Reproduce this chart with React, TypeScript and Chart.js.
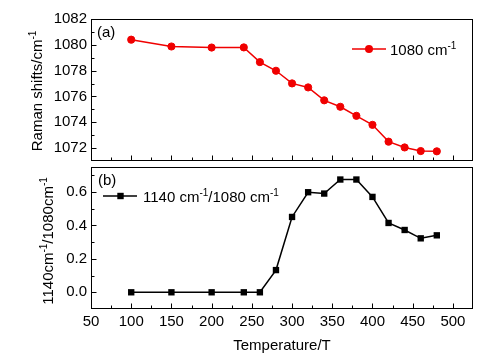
import React, { useEffect, useRef } from 'react';
import { Chart, registerables } from 'chart.js';

Chart.register(...registerables);

// ---- data ----
const temperatures = [100, 150, 200, 240, 260, 280, 300, 320, 340, 360, 380, 400, 420, 440, 460, 480];
const ramanShift1080 = [1080.4, 1079.87, 1079.79, 1079.8, 1078.66, 1077.99, 1077.01, 1076.7, 1075.7, 1075.2, 1074.5, 1073.8, 1072.5, 1072.05, 1071.77, 1071.75];
const ratio1140to1080 = [0, 0, 0, 0, 0, 0.133, 0.451, 0.599, 0.591, 0.675, 0.675, 0.571, 0.415, 0.373, 0.323, 0.341];

const xMajorTicks = [50, 100, 150, 200, 250, 300, 350, 400, 450, 500];
const xMinorTicks = [75, 125, 175, 225, 275, 325, 375, 425, 475];
const topYMajorTicks = [1072, 1074, 1076, 1078, 1080, 1082];
const topYMinorTicks = [1073, 1075, 1077, 1079, 1081];
const bottomYMajorTicks = [0, 0.2, 0.4, 0.6];
const bottomYMinorTicks = [0.1, 0.3, 0.5, 0.7];

const FONT = '"Liberation Sans", Arial, Helvetica, sans-serif';
const W = 488;
const H = 358;
const RED = '#f00000';
const BLACK = '#000000';

type Part = { t: string; sup?: boolean };

function richWidth(ctx: CanvasRenderingContext2D, parts: Part[], size: number) {
  let w = 0;
  for (const p of parts) {
    ctx.font = `${p.sup ? Math.round(size * 0.68) : size}px ${FONT}`;
    w += ctx.measureText(p.t).width;
  }
  return w;
}

function drawRich(ctx: CanvasRenderingContext2D, parts: Part[], x: number, y: number, size: number) {
  let cx = x;
  ctx.textBaseline = 'alphabetic';
  ctx.textAlign = 'left';
  for (const p of parts) {
    ctx.font = `${p.sup ? Math.round(size * 0.68) : size}px ${FONT}`;
    ctx.fillText(p.t, cx, p.sup ? y - size * 0.4 : y);
    cx += ctx.measureText(p.t).width;
  }
}

function drawRotatedTitle(ctx: CanvasRenderingContext2D, parts: Part[], baseX: number, centerY: number, size: number) {
  ctx.save();
  ctx.translate(baseX, centerY);
  ctx.rotate(-Math.PI / 2);
  const w = richWidth(ctx, parts, size);
  drawRich(ctx, parts, -w / 2, 0, size);
  ctx.restore();
}

function makeFramePlugin(yMajor: number[], yMinor: number[]) {
  return {
    id: 'frameTicks',
    beforeDatasetsDraw(chart: any) {
      const { ctx, chartArea: a, scales } = chart;
      ctx.save();
      ctx.strokeStyle = BLACK;
      ctx.lineWidth = 1;
      const l = Math.round(a.left) + 0.5;
      const r = Math.round(a.right) - 0.5;
      const t = Math.round(a.top) + 0.5;
      const b = Math.round(a.bottom) - 0.5;
      ctx.strokeRect(l, t, r - l, b - t);
      ctx.beginPath();
      for (const v of xMajorTicks) {
        const px = Math.round(scales.x.getPixelForValue(v)) + 0.5;
        ctx.moveTo(px, b);
        ctx.lineTo(px, b - 5);
      }
      for (const v of xMinorTicks) {
        const px = Math.round(scales.x.getPixelForValue(v)) + 0.5;
        ctx.moveTo(px, b);
        ctx.lineTo(px, b - 3);
      }
      for (const v of yMajor) {
        const py = Math.round(scales.y.getPixelForValue(v)) + 0.5;
        ctx.moveTo(l, py);
        ctx.lineTo(l + 5, py);
      }
      for (const v of yMinor) {
        const py = Math.round(scales.y.getPixelForValue(v)) + 0.5;
        ctx.moveTo(l, py);
        ctx.lineTo(l + 3, py);
      }
      ctx.stroke();
      ctx.restore();
    },
  };
}

const topTextPlugin = {
  id: 'topText',
  afterDraw(chart: any) {
    const { ctx } = chart;
    ctx.save();
    ctx.fillStyle = BLACK;
    // panel label
    ctx.font = `15px ${FONT}`;
    ctx.textBaseline = 'middle';
    ctx.textAlign = 'left';
    ctx.fillText('(a)', 97, 33);
    // legend
    ctx.strokeStyle = RED;
    ctx.lineWidth = 1.5;
    ctx.beginPath();
    ctx.moveTo(352, 49);
    ctx.lineTo(386, 49);
    ctx.stroke();
    ctx.fillStyle = RED;
    ctx.beginPath();
    ctx.arc(369, 49, 4, 0, Math.PI * 2);
    ctx.fill();
    ctx.fillStyle = BLACK;
    drawRich(ctx, [{ t: '1080 cm' }, { t: '-1', sup: true }], 390, 54.5, 15);
    // y title
    drawRotatedTitle(ctx, [{ t: 'Raman shifts/cm' }, { t: '-1', sup: true }], 42, 91, 15);
    ctx.restore();
  },
};

const bottomTextPlugin = {
  id: 'bottomText',
  afterDraw(chart: any) {
    const { ctx } = chart;
    ctx.save();
    ctx.fillStyle = BLACK;
    ctx.font = `15px ${FONT}`;
    ctx.textBaseline = 'middle';
    ctx.textAlign = 'left';
    ctx.fillText('(b)', 98, 181);
    // legend
    ctx.strokeStyle = BLACK;
    ctx.lineWidth = 1.5;
    ctx.beginPath();
    ctx.moveTo(103, 196);
    ctx.lineTo(137, 196);
    ctx.stroke();
    ctx.fillRect(117.3, 192.8, 6.4, 6.4);
    drawRich(
      ctx,
      [{ t: '1140 cm' }, { t: '-1', sup: true }, { t: '/1080 cm' }, { t: '-1', sup: true }],
      143,
      201.5,
      15
    );
    // y title
    drawRotatedTitle(
      ctx,
      [{ t: '1140cm' }, { t: '-1', sup: true }, { t: '/1080cm' }, { t: '-1', sup: true }],
      53,
      241,
      15
    );
    // x title
    ctx.font = `15px ${FONT}`;
    ctx.textAlign = 'center';
    ctx.textBaseline = 'middle';
    ctx.fillText('Temperature/T', 282, 346);
    ctx.restore();
  },
};

export default function App() {
  const topRef = useRef<HTMLCanvasElement | null>(null);
  const bottomRef = useRef<HTMLCanvasElement | null>(null);

  useEffect(() => {
    Chart.defaults.font.family = FONT;
    Chart.defaults.font.size = 15;
    Chart.defaults.color = BLACK;

    const topChart = new Chart(topRef.current as HTMLCanvasElement, {
      type: 'line',
      data: {
        datasets: [
          {
            data: temperatures.map((x, i) => ({ x, y: ramanShift1080[i] })),
            borderColor: RED,
            backgroundColor: RED,
            borderWidth: 1.5,
            pointRadius: 3.6,
            pointBorderWidth: 1,
            pointBackgroundColor: RED,
            pointBorderColor: RED,
            tension: 0,
          },
        ],
      },
      options: {
        animation: false,
        responsive: false,
        events: [],
        layout: { padding: { left: 0, right: 15, top: 19, bottom: 197 } },
        plugins: { legend: { display: false }, tooltip: { enabled: false } },
        scales: {
          x: {
            type: 'linear',
            min: 50,
            max: 525,
            display: false,
          },
          y: {
            type: 'linear',
            min: 1071,
            max: 1082,
            afterBuildTicks: (s: any) => {
              s.ticks = topYMajorTicks.map((v) => ({ value: v }));
            },
            afterFit: (s: any) => {
              s.width = 91;
            },
            grid: { display: false, drawTicks: false },
            border: { display: false },
            ticks: {
              padding: 4,
              color: BLACK,
              font: { size: 15 },
              callback: (v: any) => String(v),
            },
          },
        },
      },
      plugins: [makeFramePlugin(topYMajorTicks, topYMinorTicks), topTextPlugin],
    });

    const bottomChart = new Chart(bottomRef.current as HTMLCanvasElement, {
      type: 'line',
      data: {
        datasets: [
          {
            data: temperatures.map((x, i) => ({ x, y: ratio1140to1080[i] })),
            borderColor: BLACK,
            backgroundColor: BLACK,
            borderWidth: 1.5,
            pointStyle: 'rect',
            pointRadius: 4.5,
            pointBorderWidth: 0,
            pointBackgroundColor: BLACK,
            tension: 0,
          },
        ],
      },
      options: {
        animation: false,
        responsive: false,
        events: [],
        layout: { padding: { left: 0, right: 15, top: 167, bottom: 0 } },
        plugins: { legend: { display: false }, tooltip: { enabled: false } },
        scales: {
          x: {
            type: 'linear',
            min: 50,
            max: 525,
            afterBuildTicks: (s: any) => {
              s.ticks = xMajorTicks.map((v) => ({ value: v }));
            },
            afterFit: (s: any) => {
              s.height = 49;
            },
            grid: { display: false, drawTicks: false },
            border: { display: false },
            ticks: {
              padding: 4,
              color: BLACK,
              autoSkip: false,
              maxRotation: 0,
              font: { size: 15 },
              callback: (v: any) => String(v),
            },
          },
          y: {
            type: 'linear',
            min: -0.1,
            max: 0.75,
            afterBuildTicks: (s: any) => {
              s.ticks = bottomYMajorTicks.map((v) => ({ value: v }));
            },
            afterFit: (s: any) => {
              s.width = 91;
            },
            grid: { display: false, drawTicks: false },
            border: { display: false },
            ticks: {
              padding: 4,
              color: BLACK,
              font: { size: 15 },
              callback: (v: any) => Number(v).toFixed(1),
            },
          },
        },
      },
      plugins: [makeFramePlugin(bottomYMajorTicks, bottomYMinorTicks), bottomTextPlugin],
    });

    return () => {
      topChart.destroy();
      bottomChart.destroy();
    };
  }, []);

  const canvasStyle: React.CSSProperties = { position: 'absolute', left: 0, top: 0, width: W, height: H };
  return (
    <div style={{ position: 'absolute', left: 0, top: 0, width: W, height: H, background: '#fff' }}>
      <canvas ref={bottomRef} width={W} height={H} style={canvasStyle} />
      <canvas ref={topRef} width={W} height={H} style={canvasStyle} />
    </div>
  );
}
